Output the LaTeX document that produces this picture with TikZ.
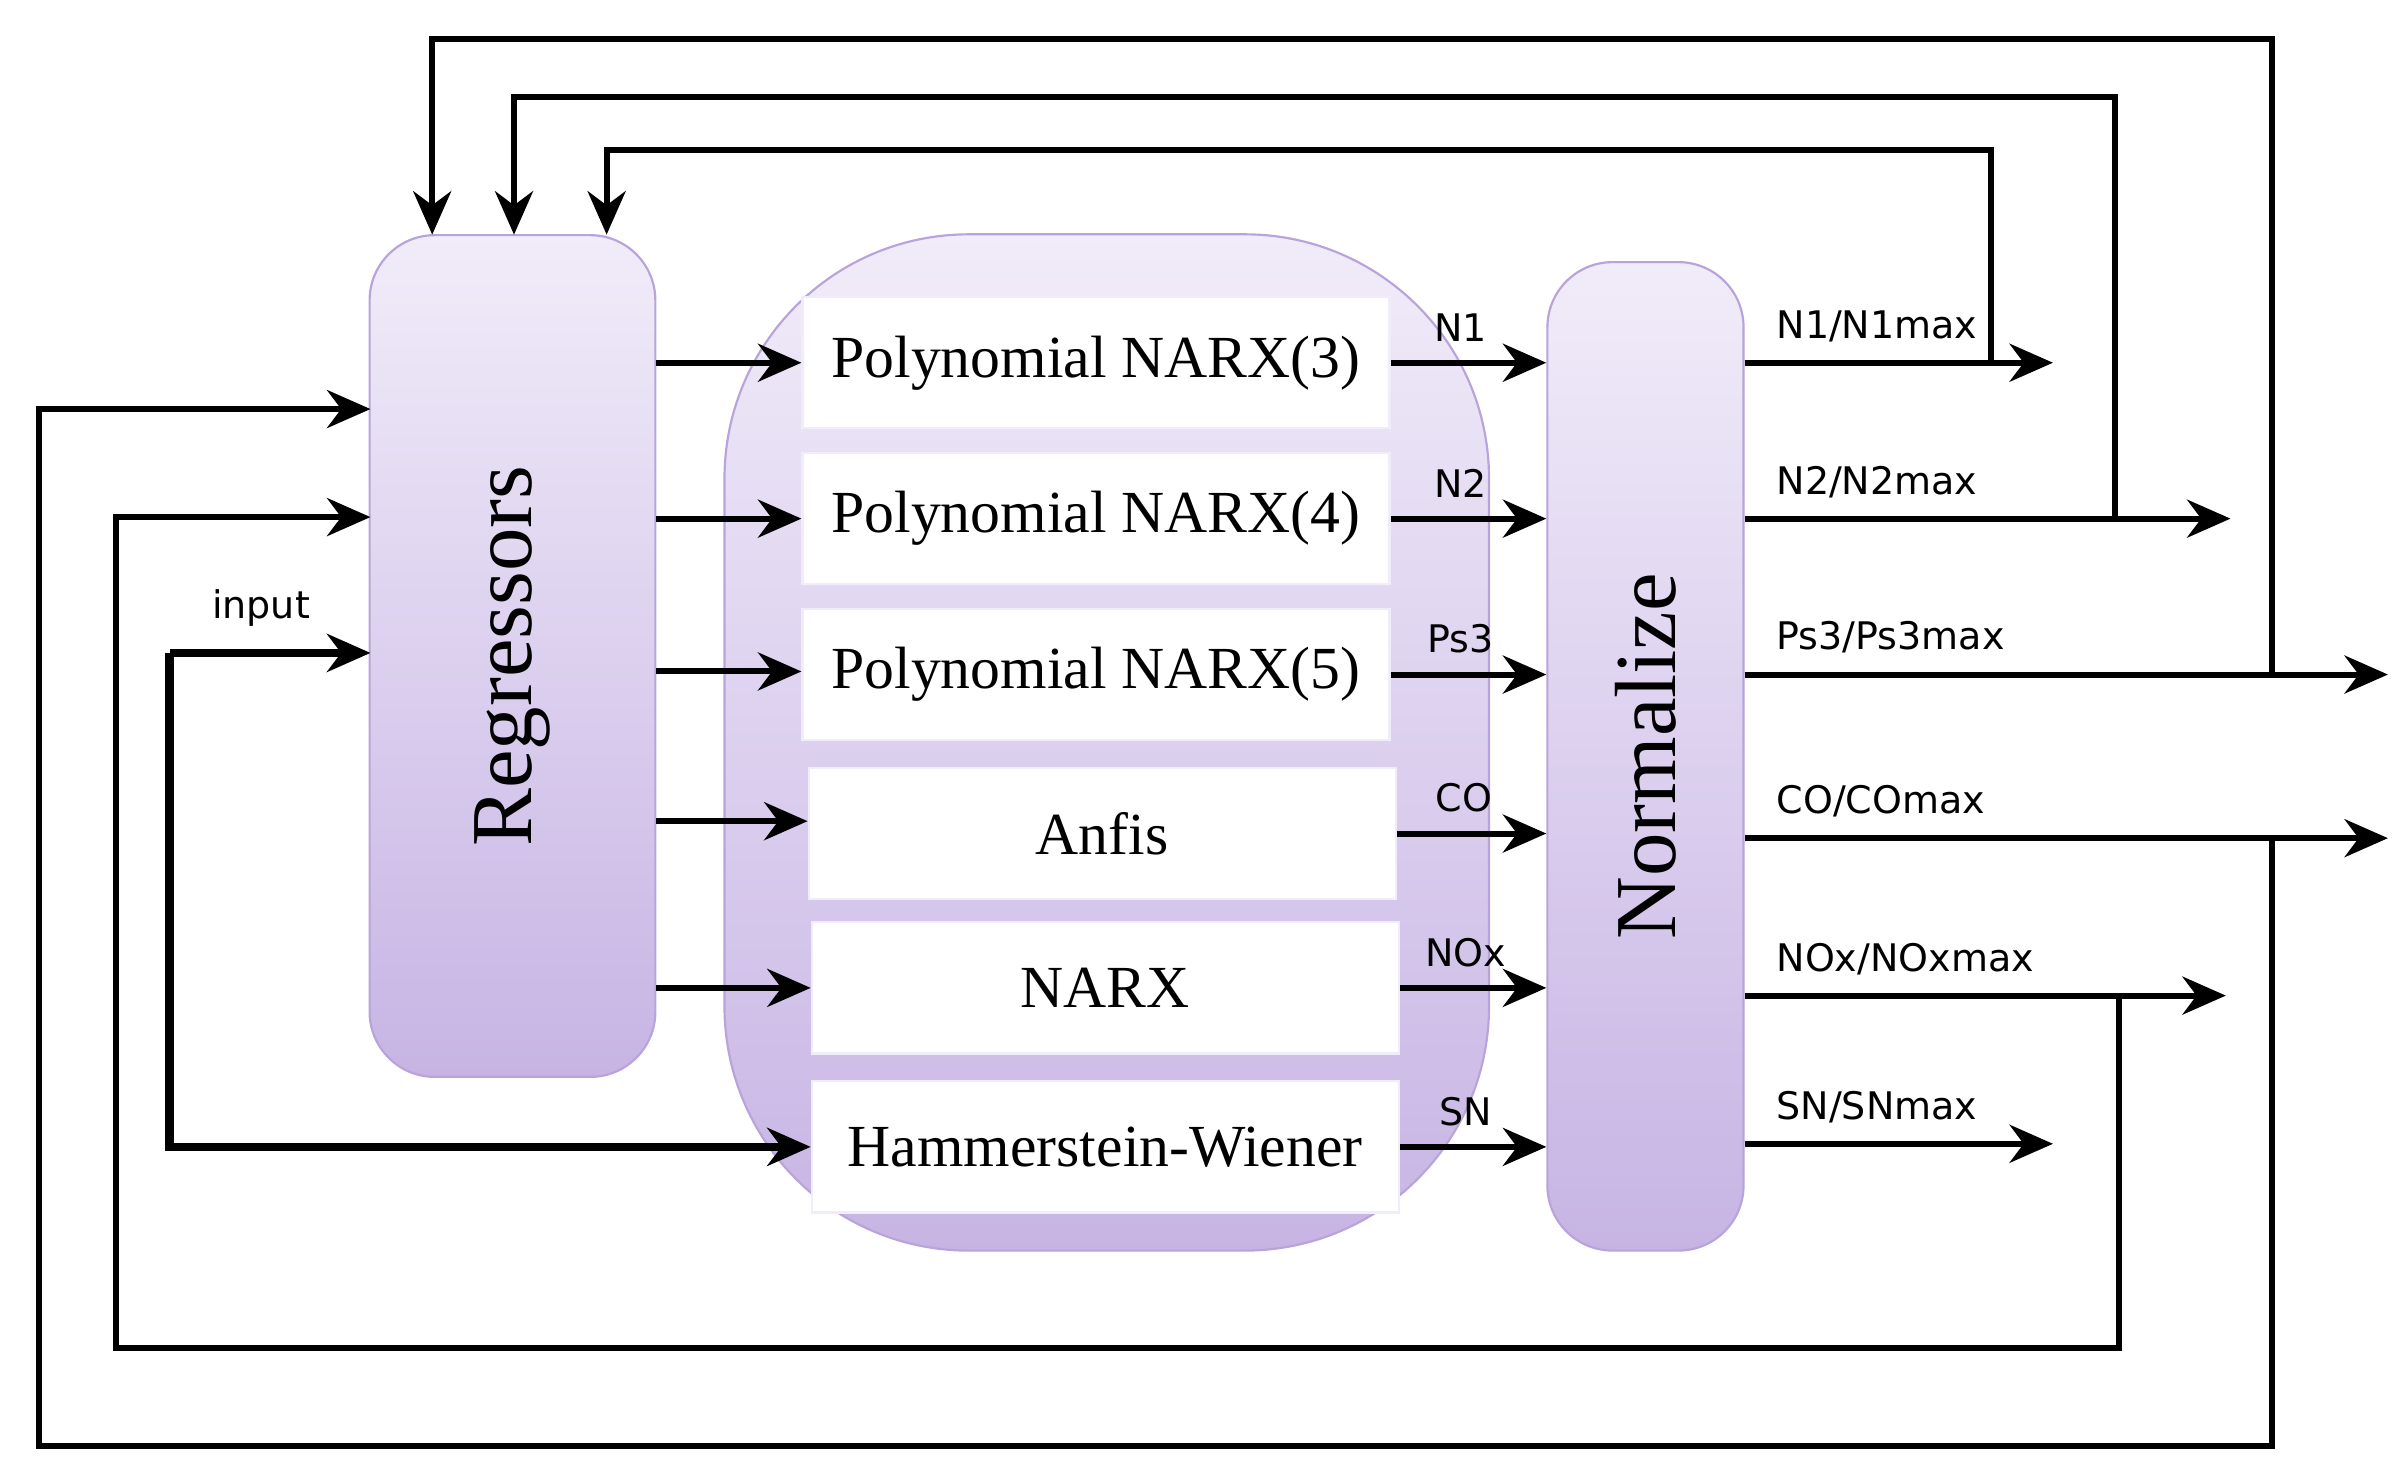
\documentclass[tikz,border=0pt]{standalone}
\usepackage{fontspec}
\setmainfont{Liberation Serif}
\newfontfamily\lblfont{DejaVu Sans}
\usetikzlibrary{arrows.meta}
\definecolor{lavtop}{HTML}{F1ECF9}
\definecolor{lavbot}{HTML}{C7B4E4}
\definecolor{lavedge}{HTML}{B8A4DA}
\tikzset{
	blk/.style={draw=lavedge, rounded corners=12pt, top color=lavtop, bottom color=lavbot},
	model/.style={draw=lavtop, fill=white, minimum width=3.8cm, minimum height=0.85cm, font=\fontsize{11}{13}\selectfont},
	con/.style={line width=1.1pt, -{Stealth[length=8pt,width=7pt]}},
	lbl/.style={font=\lblfont\fontsize{7}{9}\selectfont}
}
\begin{document}
\begin{tikzpicture}[x=0.01cm,y=-0.01cm]
	\useasboundingbox (0,0) rectangle (1560,952);
	% blocks
	\node[blk, minimum width=1.85cm, minimum height=5.45cm] (reg) at (332,425) {};
	\node[rotate=90, font=\fontsize{16}{19}\selectfont] at (reg) {Regressors};
	\node[blk, rounded corners=45pt, minimum width=4.95cm, minimum height=6.58cm] (box) at (717,481) {};
	\node[blk, minimum width=1.27cm, minimum height=6.4cm] (norm) at (1066,490) {};
	\node[rotate=90, font=\fontsize{16}{19}\selectfont] at (norm) {Normalize};
	% models
	\node[model] (m1) at (710,235) {Polynomial NARX(3)};
	\node[model] (m2) at (710,336) {Polynomial NARX(4)};
	\node[model] (m3) at (710,437) {Polynomial NARX(5)};
	\node[model] (m4) at (714,540) {Anfis};
	\node[model] (m5) at (716,640) {NARX};
	\node[model] (m6) at (716,743) {Hammerstein-Wiener};
	% regressors to models
	\foreach \m/\y in {m1/235,m2/336,m3/435,m4/532,m5/640}
		\draw[con] (425,\y) -- (\m.west |- 0,\y);
	% models to normalize
	\foreach \m/\t in {m1/N1,m2/N2,m3/Ps3,m4/CO,m5/NOx,m6/SN}{
		\draw[con] (\m.east) -- (norm.west |- \m.east) node[lbl, pos=0.45, above] {\t};
	}
	% outputs
	\coordinate (o1) at (1330,235);
	\coordinate (o2) at (1445,336);
	\coordinate (o3) at (1547,437);
	\coordinate (o4) at (1547,543);
	\coordinate (o5) at (1442,645);
	\coordinate (o6) at (1330,741);
	\foreach \o/\t in {o1/{N1/N1max},o2/{N2/N2max},o3/{Ps3/Ps3max},o4/{CO/COmax},o5/{NOx/NOxmax},o6/{SN/SNmax}}
		\draw[con] (norm.east |- \o) -- (\o) node[lbl, pos=0, above right, xshift=2pt] {\t};
	% feedback over the top
	\draw[con] (1290,235) |- (393,97) -- (393,152);
	\draw[con] (1370,336) |- (333,63) -- (333,152);
	\draw[con] (1472,437) |- (280,25) -- (280,152);
	% feedback underneath
	\draw[con] (1373,645) |- (75,873) |- (240,335);
	\draw[con] (1472,543) |- (25,937) |- (240,265);
	% input
	\coordinate (in) at (110,423);
	\node[lbl, anchor=south west] at (125,418) {input};
	\draw[con, line width=1.6pt] (in) -- (240,423);
	\draw[con, line width=1.6pt] (in) |- (m6.west);
\end{tikzpicture}
\end{document}
